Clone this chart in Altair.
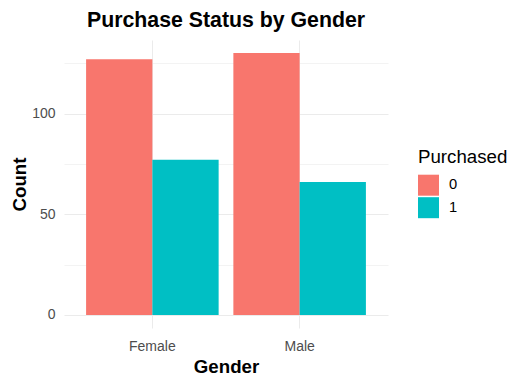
import altair as alt
import pandas as pd

genders = ["Female", "Female", "Male", "Male"]
purchased = ["0", "1", "0", "1"]
counts = [127, 77, 130, 66]

df = pd.DataFrame({"Gender": genders, "Purchased": purchased, "Count": counts})

FONT = "Liberation Sans"
GRID = "#EBEBEB"

chart = (
    alt.Chart(df)
    .mark_bar(opacity=1)
    .encode(
        x=alt.X(
            "Gender:N",
            sort=["Female", "Male"],
            scale=alt.Scale(paddingInner=0.1, paddingOuter=0.15),
            axis=alt.Axis(
                title="Gender",
                labelAngle=0,
                labelFont=FONT,
                labelFontSize=14,
                labelColor="#4D4D4D",
                labelPadding=11,
                ticks=False,
                tickSize=0,
                domain=False,
                grid=True,
                gridColor=GRID,
                gridWidth=1,
                bandPosition=0.5,
                titleFont=FONT,
                titleFontSize=18.7,
                titleFontWeight="bold",
                titleColor="black",
                titleBaseline="alphabetic",
                titleY=44,
            ),
        ),
        xOffset=alt.XOffset(
            "Purchased:N",
            sort=["0", "1"],
            scale=alt.Scale(paddingInner=0, paddingOuter=0),
        ),
        y=alt.Y(
            "Count:Q",
            scale=alt.Scale(domain=[-6.5, 136.5], nice=False, zero=False),
            axis=alt.Axis(
                title="Count",
                values=[0, 25, 50, 75, 100, 125],
                labelExpr="datum.value % 50 === 0 ? datum.label : ''",
                labelFont=FONT,
                labelFontSize=14,
                labelColor="#4D4D4D",
                labelPadding=9,
                ticks=False,
                tickSize=0,
                domain=False,
                grid=True,
                gridColor=GRID,
                gridWidth={"condition": {"test": "datum.value % 50 === 0", "value": 1.0}, "value": 0.6},
                titleFont=FONT,
                titleFontSize=18.7,
                titleFontWeight="bold",
                titleColor="black",
                titleAngle=270,
                titleBaseline="alphabetic",
                titleAlign="center",
                titleX=-39,
                titleY=144,
            ),
        ),
        color=alt.Color(
            "Purchased:N",
            sort=["0", "1"],
            scale=alt.Scale(domain=["0", "1"], range=["#F8766D", "#00BFC4"]),
            legend=alt.Legend(
                title="Purchased",
                orient="none",
                legendX=354,
                legendY=108,
                titleFont=FONT,
                titleFontSize=18.7,
                titleFontWeight="normal",
                titleColor="black",
                titlePadding=8,
                labelFont=FONT,
                labelFontSize=14.7,
                labelColor="black",
                labelOffset=10,
                symbolType="square",
                symbolSize=441,
                symbolStrokeWidth=0,
                symbolOpacity=1,
                rowPadding=1.5,
                padding=0,
            ),
        ),
    )
    .properties(
        width=324,
        height=288,
        title=alt.TitleParams(
            "Purchase Status by Gender",
            font=FONT,
            fontSize=21.3,
            fontWeight="bold",
            color="black",
            anchor="middle",
            frame="group",
            offset=9,
        ),
        autosize=alt.AutoSizeParams(type="none"),
        padding={"left": 56, "top": 32, "right": 120, "bottom": 49},
    )
    .configure_view(stroke=None)
)

chart.save("out.html", embed_options={"renderer": "svg", "actions": False})
